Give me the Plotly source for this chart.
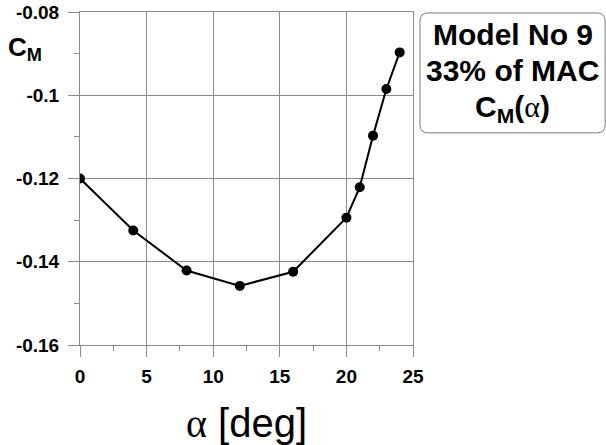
import plotly.graph_objects as go

# Pitching-moment coefficient vs angle of attack
alpha_deg = [0, 4, 8, 12, 16, 20, 21, 22, 23, 24]
cm_values = [-0.1200, -0.1325, -0.1421, -0.1458, -0.1424, -0.1294, -0.1221, -0.1097, -0.0985, -0.0897]

x_ticks = [0, 5, 10, 15, 20, 25]
y_ticks = [-0.16, -0.14, -0.12, -0.1, -0.08]
y_tick_text = ["-0.16", "-0.14", "-0.12", "-0.1", "-0.08"]

FONT = "Liberation Sans"
GRID = "#8c8c8c"

fig = go.Figure()
fig.add_trace(go.Scatter(
    x=alpha_deg, y=cm_values, mode="lines+markers",
    line=dict(color="black", width=2),
    marker=dict(color="black", size=10),
    showlegend=False,
))

axis_common = dict(
    showgrid=True, gridcolor=GRID, gridwidth=1,
    showline=True, linecolor=GRID, linewidth=1, mirror=True,
    ticks="outside", ticklen=11, tickcolor=GRID, tickwidth=1,
    zeroline=False, automargin=False,
    tickfont=dict(family=FONT, size=19, color="black", weight=700),
    minor=dict(ticks="outside", ticklen=5, tickcolor=GRID, showgrid=False),
)

fig.update_xaxes(range=[0, 25], tickvals=x_ticks,
                 ticktext=[str(v) for v in x_ticks],
                 minor_dtick=2.5, ticklabelstandoff=3, **axis_common)
fig.update_yaxes(range=[-0.16, -0.08], tickvals=y_ticks,
                 ticktext=y_tick_text,
                 minor_dtick=0.01, ticklabelstandoff=5, **axis_common)

# rounded box in the right margin
x0, x1, y0, y1, r = 1.021, 1.577, 0.637, 0.997, 0.024
path = (f"M {x0+r},{y1} L {x1-r},{y1} Q {x1},{y1} {x1},{y1-r} "
        f"L {x1},{y0+r} Q {x1},{y0} {x1-r},{y0} L {x0+r},{y0} "
        f"Q {x0},{y0} {x0},{y0+r} L {x0},{y1-r} Q {x0},{y1} {x0+r},{y1} Z")
fig.add_shape(type="path", path=path, xref="paper", yref="paper",
              line=dict(color="#7a7a7a", width=1), fillcolor="white")

box_lines = [
    ("<b>Model No 9</b>", 0.933),
    ("<b>33% of MAC</b>", 0.824),
    ("<b>C<sub>M</sub>(</b><span style='font-family:Liberation Serif'>α</span><b>)</b>", 0.710),
]
for txt, yy in box_lines:
    fig.add_annotation(text=txt, x=1.299, y=yy, xref="paper", yref="paper",
                       showarrow=False, xanchor="center", yanchor="middle",
                       font=dict(family=FONT, size=30, color="black"))

# y-axis symbol
fig.add_annotation(text="<b>C<sub>M</sub></b>", x=-0.165, y=0.89, xref="paper", yref="paper",
                   showarrow=False, xanchor="center", yanchor="middle",
                   font=dict(family=FONT, size=26, color="black"))

# x-axis title
fig.add_annotation(text="<span style='font-family:Liberation Serif'>α</span> [deg]",
                   x=0.5, y=-0.235, xref="paper", yref="paper",
                   showarrow=False, xanchor="center", yanchor="middle",
                   font=dict(family=FONT, size=40, color="black"))

fig.update_layout(
    width=606, height=445,
    margin=dict(l=80, r=193, t=12, b=100, autoexpand=False),
    paper_bgcolor="white", plot_bgcolor="white",
)

fig.write_html("out.html")
